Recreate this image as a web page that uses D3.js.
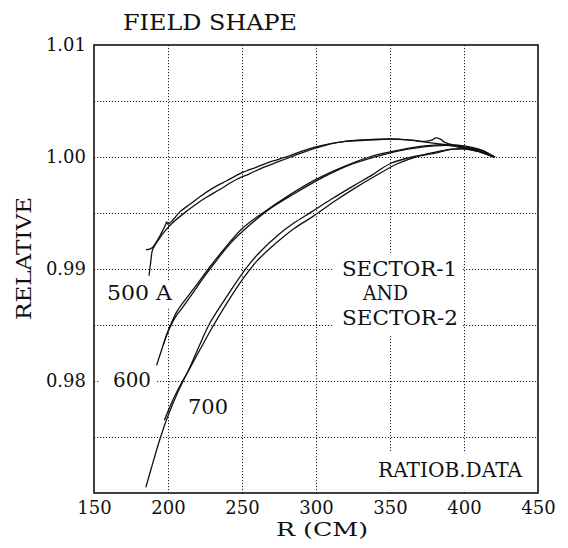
<!DOCTYPE html>
<html><head><meta charset="utf-8">
<script src="https://cdn.jsdelivr.net/npm/d3@7"></script>
<style>
html,body{margin:0;padding:0;background:#fff;}
svg{display:block;}
text{font-family:"DejaVu Serif",serif;fill:#111;}
</style></head>
<body>
<svg id="c" width="568" height="548"></svg>
<script>
// ---- data ----
const xTicks = [150, 200, 250, 300, 350, 400, 450];
const yTickLabels = [0.98, 0.99, 1.00, 1.01];
const yGrid = [0.975, 0.98, 0.985, 0.99, 0.995, 1.00, 1.005];
const xGrid = [200, 250, 300, 350, 400];

const r500s1 = [185, 188, 190, 193, 195.5, 197.5, 199.2, 199.8, 203.5, 208, 215, 222, 230, 240, 250, 260, 270, 282, 290, 300, 310, 320, 335, 350, 365, 374, 378, 381, 384, 387, 395, 405, 413, 421];
const v500s1 = [0.9917, 0.9918, 0.9920, 0.9926, 0.9932, 0.9937, 0.9942, 0.9940, 0.9944, 0.9951, 0.9958, 0.9965, 0.9972, 0.9979, 0.9986, 0.9991, 0.9996, 1.0001, 1.0005, 1.0009, 1.0012, 1.0014, 1.0015, 1.0016, 1.0015, 1.0014, 1.0015, 1.0017, 1.0016, 1.0013, 1.0010, 1.0007, 1.0004, 1.0000];
const r500s2 = [187.2, 188.3, 189.5, 191.5, 194, 198, 203, 210, 218, 226, 235, 245, 255, 265, 275, 285, 295, 305, 315, 328, 342, 356, 370, 382, 392, 402, 412, 420];
const v500s2 = [0.9894, 0.9906, 0.9917, 0.9922, 0.9927, 0.9934, 0.9941, 0.9949, 0.9957, 0.9964, 0.9971, 0.9979, 0.9985, 0.9991, 0.9996, 1.0001, 1.0006, 1.0010, 1.0013, 1.0015, 1.0016, 1.0016, 1.0014, 1.0012, 1.0010, 1.0007, 1.0004, 1.0000];

const r600s1 = [192.3, 194, 196, 198, 201.4, 206, 213.7, 220, 228.4, 237.4, 250, 264, 282, 300, 318, 336, 352, 368, 386, 400, 410, 421];
const v600s1 = [0.9814, 0.9821, 0.9829, 0.9837, 0.9849, 0.9862, 0.9876, 0.9887, 0.9902, 0.9917, 0.9936, 0.9950, 0.9966, 0.9980, 0.9991, 1.0000, 1.0005, 1.0009, 1.0011, 1.0010, 1.0007, 1.0000];
const r600s2 = [196.8, 198.5, 201, 205, 210, 217, 225, 233, 243, 255, 268, 285, 305, 325, 345, 362, 380, 395, 405, 414, 420];
const v600s2 = [0.9832, 0.9839, 0.9847, 0.9857, 0.9866, 0.9879, 0.9894, 0.9908, 0.9924, 0.9939, 0.9953, 0.9967, 0.9982, 0.9994, 1.0002, 1.0007, 1.0010, 1.0010, 1.0008, 1.0005, 1.0000];

const r700s1 = [185, 190, 195, 200, 207, 214, 221, 228.4, 240, 253, 262, 275, 285, 297, 310, 325, 338, 350, 365, 379, 393, 406, 414, 421];
const v700s1 = [0.9705, 0.9728, 0.9750, 0.9769, 0.9791, 0.9810, 0.9831, 0.9852, 0.9876, 0.9901, 0.9915, 0.9931, 0.9941, 0.9951, 0.9962, 0.9974, 0.9984, 0.9994, 1.0000, 1.0003, 1.0007, 1.0007, 1.0004, 1.0000];
const r700s2 = [197.5, 200, 204, 209, 215, 222, 230, 240, 250, 260, 272, 285, 298, 312, 326, 340, 355, 370, 383, 392, 402, 412, 420];
const v700s2 = [0.9765, 0.9773, 0.9785, 0.9798, 0.9812, 0.9829, 0.9848, 0.9870, 0.9890, 0.9907, 0.9922, 0.9936, 0.9947, 0.9960, 0.9972, 0.9983, 0.9994, 1.0001, 1.0005, 1.0007, 1.0007, 1.0004, 1.0000];

const series = [
  [r500s1, v500s1], [r500s2, v500s2],
  [r600s1, v600s1], [r600s2, v600s2],
  [r700s1, v700s1], [r700s2, v700s2]
];

// ---- layout ----
const L = 94, T = 45, W = 444, H = 448;
const svg = d3.select("#c");
const x = d3.scaleLinear().domain([150, 450]).range([L, L + W]);
const y = d3.scaleLinear().domain([0.97, 1.01]).range([T + H, T]);

// grid
const grid = svg.append("g").attr("stroke", "#222").attr("stroke-width", 1).attr("stroke-dasharray", "1.2,1.8");
grid.selectAll("line.h").data(yGrid).join("line")
  .attr("x1", L).attr("x2", L + W).attr("y1", d => Math.round(y(d)) + 0.5).attr("y2", d => Math.round(y(d)) + 0.5);
grid.selectAll("line.v").data(xGrid).join("line")
  .attr("y1", T).attr("y2", T + H).attr("x1", d => Math.round(x(d)) + 0.5).attr("x2", d => Math.round(x(d)) + 0.5);

// curves
const line = d3.line().x(d => x(d[0])).y(d => y(d[1])).curve(d3.curveCatmullRom.alpha(0.5));
svg.append("g").selectAll("path").data(series).join("path")
  .attr("d", s => line(s[0].map((r, i) => [r, s[1][i]])))
  .attr("fill", "none").attr("stroke", "#111").attr("stroke-width", 1.3);

// annotations with white boxes
function boxedText(lines, padL, padR, padT, padB) {
  const g = svg.append("g");
  const rect = g.append("rect").attr("fill", "#fff");
  const ts = lines.map(o => g.append("text").attr("x", o.x).attr("y", o.y)
    .attr("font-size", o.fs).attr("textLength", o.len).attr("lengthAdjust", "spacingAndGlyphs").text(o.t));
  let x0 = 1e9, y0 = 1e9, x1 = -1e9, y1 = -1e9;
  ts.forEach(t => { const b = t.node().getBBox(); x0 = Math.min(x0, b.x); y0 = Math.min(y0, b.y); x1 = Math.max(x1, b.x + b.width); y1 = Math.max(y1, b.y + b.height); });
  rect.attr("x", x0 - padL).attr("y", y0 - padT).attr("width", x1 - x0 + padL + padR).attr("height", y1 - y0 + padT + padB);
}
boxedText([{t: "500 A", x: 107, y: 300, fs: 21, len: 65}], 3, 3, 0, 2);
boxedText([{t: "600", x: 113, y: 387, fs: 21, len: 38}], 14, 6, 0, 0);
boxedText([{t: "700", x: 188, y: 414, fs: 21, len: 40}], 3, 3, 0, 0);
boxedText([
  {t: "SECTOR-1", x: 342, y: 276, fs: 21, len: 115},
  {t: "AND", x: 363, y: 300, fs: 21, len: 45},
  {t: "SECTOR-2", x: 342, y: 325, fs: 21, len: 116}
], 9, 4, 4, 4);
boxedText([{t: "RATIOB.DATA", x: 378, y: 477, fs: 21, len: 144}], 8, 8, 6, 8);

// frame
svg.append("rect").attr("x", L).attr("y", T).attr("width", W).attr("height", H)
  .attr("fill", "none").attr("stroke", "#111").attr("stroke-width", 1.6);

// axes
const xAxis = d3.axisBottom(x).tickValues(xTicks).tickSize(0).tickPadding(8).tickFormat(d3.format("d"));
const gx = svg.append("g").attr("transform", `translate(0,${T + H})`).call(xAxis);
gx.select(".domain").remove();
gx.selectAll("text").attr("font-size", 18).attr("font-family", "DejaVu Serif").attr("fill", "#111");

const yAxis = d3.axisLeft(y).tickValues(yTickLabels).tickSize(0).tickPadding(8).tickFormat(d3.format(".2f"));
const gy = svg.append("g").attr("transform", `translate(${L},0)`).call(yAxis);
gy.select(".domain").remove();
gy.selectAll("text").attr("font-size", 18).attr("font-family", "DejaVu Serif").attr("fill", "#111");

// titles
svg.append("text").attr("x", 123).attr("y", 30).attr("font-size", 22).attr("textLength", 174)
  .attr("lengthAdjust", "spacingAndGlyphs").text("FIELD SHAPE");
svg.append("text").attr("x", 276).attr("y", 536).attr("font-size", 19).attr("textLength", 92)
  .attr("lengthAdjust", "spacingAndGlyphs").text("R (CM)");
svg.append("text").attr("transform", "translate(31,320) rotate(-90)").attr("font-size", 20)
  .attr("textLength", 123).attr("lengthAdjust", "spacingAndGlyphs").text("RELATIVE");
</script>
</body></html>
